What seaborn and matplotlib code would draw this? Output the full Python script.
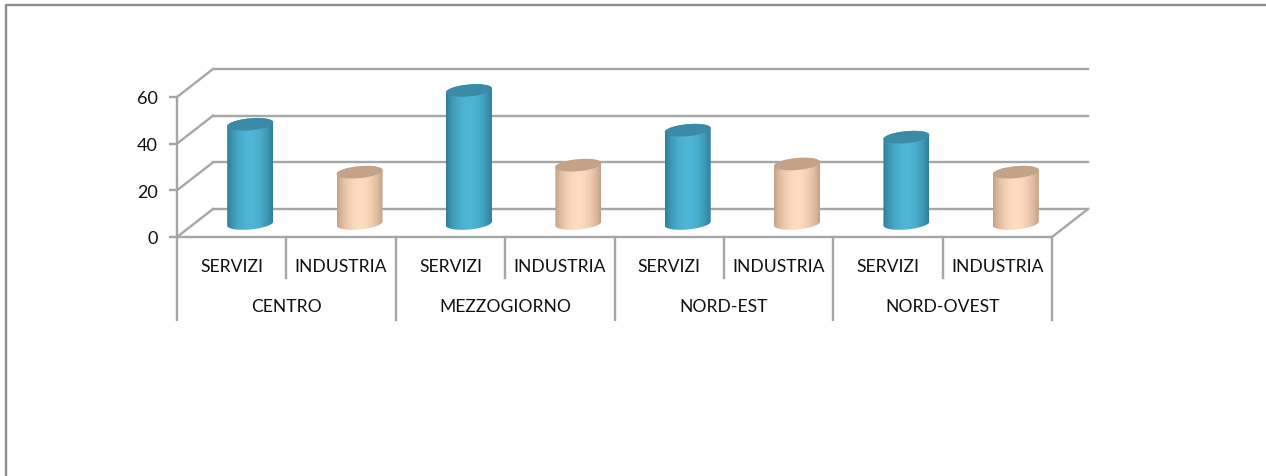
import numpy as np
import pandas as pd
import matplotlib
matplotlib.use("Agg")
import matplotlib.pyplot as plt
from matplotlib.colors import to_rgb
from matplotlib.patches import Polygon
import seaborn as sns

groups = ["CENTRO", "MEZZOGIORNO", "NORD-EST", "NORD-OVEST"]
sectors = ["SERVIZI", "INDUSTRIA"]
servizi = [42.5, 57, 40, 37]
industria = [22, 25, 25.5, 22]
y_ticks = [0, 20, 40, 60]

W, H = 1266, 477
rows = []
for g, s, i in zip(groups, servizi, industria):
    rows.append((g, "SERVIZI", g + " SERVIZI", s))
    rows.append((g, "INDUSTRIA", g + " INDUSTRIA", i))
df = pd.DataFrame(rows, columns=["group", "sector", "key", "value"])

sns.set_theme(style="white")
plt.rcParams["font.family"] = ["Lato", "DejaVu Sans"]
TXT = "#111111"
GRID = "#a6a6a6"
FS = 12.6

fig = plt.figure(figsize=(W / 100, H / 100), dpi=100, facecolor="white")
L, R, T, B = 177, 1052, 98, 238
ax = fig.add_axes([L / W, 1 - B / H, (R - L) / W, (B - T) / H])

palette = {"SERVIZI": "#4bb3d3", "INDUSTRIA": "#fdd9bb"}
sns.barplot(data=df, x="key", y="value", hue="sector", palette=palette,
            dodge=False, legend=False, width=46 / (875 / 8), ax=ax)
ax.set_xlim(-0.5, 7.5)
ax.set_ylim(0, 60)
ax.set_xlabel("")
ax.set_ylabel("")
for sp in ax.spines.values():
    sp.set_visible(False)

px = 8 / (R - L)      # data x per pixel
py = 60 / (B - T)     # data y per pixel
dx, dy = 36 * px, 28 * py   # wall depth


def line(xs, ys, z=1, lw=1.7, col=GRID):
    ax.plot(xs, ys, color=col, lw=lw, clip_on=False, zorder=z, solid_capstyle="projecting")


# wall and floor
for v in y_ticks:
    line([-0.5, -0.5 + dx], [v, v + dy])
    line([-0.5 + dx, 7.5 + dx], [v + dy, v + dy])
line([-0.5, 7.5], [0, 0])
line([7.5, 7.5 + dx], [0, dy])
low1 = -(279 - B) * py
low2 = -(321 - B) * py
line([-0.5, -0.5], [low2, 60])
for k in range(1, 8):
    line([k - 0.5, k - 0.5], [0, low2 if k % 2 == 0 else low1])
line([7.5, 7.5], [low2, 0])

# ticks and labels
ax.set_yticks(y_ticks)
ax.set_yticklabels([str(v) for v in y_ticks], fontsize=FS + 0.4, color=TXT)
ax.tick_params(axis="y", length=6, width=1.7, color=GRID, pad=8, left=True)
ax.set_xticks(range(8))
ax.set_xticklabels(list(df["sector"]), fontsize=FS, color=TXT)
ax.tick_params(axis="x", length=0, pad=15)
for i, g in enumerate(groups):
    ax.text(2 * i + 0.5, -(307.5 - B) * py, g, ha="center", va="center",
            fontsize=FS, color=TXT, clip_on=False)

# cylinders built from the bars that seaborn drew
shades = {"SERVIZI": ("#2d7d99", "#4eb6d6", "#3b8ba6"),
          "INDUSTRIA": ("#c4a184", "#fedcc0", "#c3a288")}
t = np.linspace(0, 2 * np.pi, 90)
bars = sorted([p for p in ax.patches if p.get_width() > 0], key=lambda p: p.get_x())
for bar, sector in zip(bars, df["sector"]):
    bar.set_visible(False)
    cx = bar.get_x() + bar.get_width() / 2 + 18.5 * px
    r = bar.get_width() / 2
    h = bar.get_height()
    y0 = 13.5 * py
    a, b = 6.0 * py, 2.0 * py

    edge, mid, top = shades[sector]
    # body
    front = t[t >= np.pi]
    xb = cx + r * np.cos(front)
    yb = y0 + a * np.sin(front) + b * np.cos(front)
    back = t[t <= np.pi]
    xt = cx + r * np.cos(back)
    yt = y0 + h + a * np.sin(back) + b * np.cos(back)
    body = Polygon(np.column_stack([np.r_[xb, xt], np.r_[yb, yt]]),
                   closed=True, transform=ax.transData, fc="none", ec="none",
                   clip_on=False, zorder=3)
    ax.add_patch(body)
    u = np.linspace(0, 1, 64)
    w = np.sin(np.pi * u) ** 0.8
    c0, c1 = np.array(to_rgb(edge)), np.array(to_rgb(mid))
    img = (c0[None, :] * (1 - w[:, None]) + c1[None, :] * w[:, None])[None, :, :]
    im = ax.imshow(img, extent=[cx - r, cx + r, y0 - a - b, y0 + h + a + b],
                   aspect="auto", zorder=3, interpolation="bilinear")
    im.set_clip_path(body)
    im.set_clip_box(fig.bbox)
    # top
    ex = cx + r * np.cos(t)
    ey = y0 + h + a * np.sin(t) + b * np.cos(t)
    ax.add_patch(Polygon(np.column_stack([ex, ey]), closed=True, fc=top, ec="none",
                         clip_on=False, zorder=4))

ax.set_xlim(-0.5, 7.5)
ax.set_ylim(0, 60)
ax.patch.set_alpha(0)

# outer frame
fig.add_artist(plt.Line2D([6 / W, 6 / W, 1], [0, 1 - 6 / H, 1 - 6 / H],
                          transform=fig.transFigure, color="#8c8c8c", lw=1.7))

fig.savefig("out.png", dpi=100)
